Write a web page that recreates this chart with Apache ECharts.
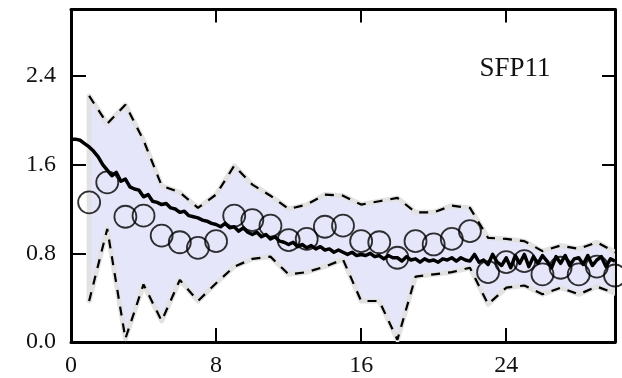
<!DOCTYPE html>
<html>
<head>
<meta charset="utf-8">
<script src="https://cdn.jsdelivr.net/npm/echarts@6/dist/echarts.min.js"></script>
<style>
html,body{margin:0;padding:0;background:#fff;}
#chart{width:622px;height:378px;}
</style>
</head>
<body>
<div id="chart"></div>
<script>
// x positions of the sampled points (1..30)
const pointX = [1,2,3,4,5,6,7,8,9,10,11,12,13,14,15,16,17,18,19,20,21,22,23,24,25,26,27,28,29,30];
// open circles
const circleY = [1.26,1.44,1.13,1.14,0.96,0.90,0.85,0.91,1.14,1.10,1.05,0.92,0.93,1.04,1.05,0.91,0.90,0.76,0.91,0.88,0.93,1.00,0.63,0.72,0.73,0.61,0.67,0.61,0.68,0.60];
// dashed band bounds
const upperY = [2.22,1.97,2.14,1.82,1.41,1.35,1.21,1.33,1.59,1.42,1.32,1.20,1.24,1.33,1.32,1.24,1.27,1.30,1.17,1.17,1.23,1.21,0.94,0.93,0.91,0.82,0.87,0.84,0.90,0.81];
const lowerY = [0.37,1.02,0.03,0.52,0.19,0.56,0.37,0.53,0.68,0.75,0.77,0.61,0.63,0.68,0.745,0.37,0.37,0.02,0.59,0.61,0.63,0.67,0.34,0.49,0.51,0.43,0.49,0.43,0.50,0.44];
// thick solid curve, sampled every 0.25
const curveX = [0,0.25,0.5,0.75,1,1.25,1.5,1.75,2,2.25,2.5,2.75,3,3.25,3.5,3.75,4,4.25,4.5,4.75,5,5.25,5.5,5.75,6,6.25,6.5,6.75,7,7.25,7.5,7.75,8,8.25,8.5,8.75,9,9.25,9.5,9.75,10,10.25,10.5,10.75,11,11.25,11.5,11.75,12,12.25,12.5,12.75,13,13.25,13.5,13.75,14,14.25,14.5,14.75,15,15.25,15.5,15.75,16,16.25,16.5,16.75,17,17.25,17.5,17.75,18,18.25,18.5,18.75,19,19.25,19.5,19.75,20,20.25,20.5,20.75,21,21.25,21.5,21.75,22,22.25,22.5,22.75,23,23.25,23.5,23.75,24,24.25,24.5,24.75,25,25.25,25.5,25.75,26,26.25,26.5,26.75,27,27.25,27.5,27.75,28,28.25,28.5,28.75,29,29.25,29.5,29.75,30];
const curveY = [1.83,1.83,1.82,1.79,1.76,1.72,1.67,1.60,1.55,1.50,1.53,1.45,1.47,1.40,1.38,1.37,1.31,1.33,1.27,1.26,1.24,1.25,1.21,1.20,1.17,1.18,1.14,1.13,1.12,1.10,1.09,1.07,1.06,1.04,1.07,1.03,1.04,1.00,1.03,0.99,0.97,0.99,0.95,0.97,0.93,0.95,0.91,0.90,0.88,0.90,0.86,0.88,0.85,0.87,0.84,0.86,0.83,0.84,0.81,0.83,0.81,0.79,0.81,0.78,0.79,0.78,0.80,0.77,0.78,0.75,0.78,0.76,0.76,0.73,0.77,0.74,0.75,0.72,0.75,0.73,0.74,0.72,0.75,0.74,0.76,0.73,0.76,0.74,0.73,0.79,0.72,0.74,0.70,0.79,0.72,0.69,0.76,0.67,0.78,0.71,0.79,0.68,0.77,0.71,0.78,0.73,0.67,0.77,0.71,0.78,0.69,0.75,0.76,0.70,0.78,0.69,0.74,0.77,0.68,0.75,0.73];
// axis ticks
const xTicks = [0,8,16,24];
const yTicks = [0,0.8,1.6,2.4];
const panelLabel = 'SFP11';

const FONT = '"Liberation Serif", "Times New Roman", serif';
const zip = (a, b) => a.map((v, i) => [v, b[i]]);

const chart = echarts.init(document.getElementById('chart'), null, {renderer: 'canvas'});

const axisCommon = {
  axisLine: {show: true, onZero: false, lineStyle: {color: '#000', width: 3}},
  splitLine: {show: false},
};

const option = {
  animation: false,
  grid: {left: 71, right: 7, top: 9.5, bottom: 36, containLabel: false},
  xAxis: [
    Object.assign({
      type: 'value', position: 'bottom', min: 0, max: 30,
      axisTick: {show: true, inside: true, length: 14, lineStyle: {color: '#000', width: 2}, customValues: xTicks},
      axisLabel: {show: true, margin: 12, color: '#111', fontSize: 24, fontFamily: FONT, customValues: xTicks,
        formatter: v => String(v)}
    }, axisCommon),
    Object.assign({
      type: 'value', position: 'top', min: 0, max: 30,
      axisTick: {show: true, inside: true, length: 13, lineStyle: {color: '#000', width: 2}, customValues: xTicks},
      axisLabel: {show: false}
    }, axisCommon)
  ],
  yAxis: [
    Object.assign({
      type: 'value', position: 'left', min: 0, max: 3.0,
      axisTick: {show: true, inside: true, length: 15, lineStyle: {color: '#000', width: 2}, customValues: yTicks},
      axisLabel: {show: true, margin: 15, color: '#111', fontSize: 24, fontFamily: FONT, customValues: yTicks,
        formatter: v => v.toFixed(1)}
    }, axisCommon),
    Object.assign({
      type: 'value', position: 'right', min: 0, max: 3.0,
      axisTick: {show: true, inside: true, length: 13, lineStyle: {color: '#000', width: 2}, customValues: yTicks},
      axisLabel: {show: false}
    }, axisCommon)
  ],
  graphic: [{
    type: 'text', x: 515, y: 69, z: 100,
    style: {text: panelLabel, font: '27px ' + FONT, fill: '#111', textAlign: 'center', textVerticalAlign: 'middle'}
  }],
  series: [
    {
      type: 'custom', name: 'band', z: 1, clip: true,
      data: [[pointX[0], lowerY[0]]],
      renderItem: function (params, api) {
        const pts = [];
        for (let i = 0; i < pointX.length; i++) pts.push(api.coord([pointX[i], upperY[i]]));
        for (let i = pointX.length - 1; i >= 0; i--) pts.push(api.coord([pointX[i], lowerY[i]]));
        return {
          type: 'polygon',
          shape: {points: pts},
          style: {fill: '#e6e6fa', stroke: '#e2e2e2', lineWidth: 5, lineJoin: 'round'}
        };
      }
    },
    {
      type: 'line', name: 'upper', z: 2, data: zip(pointX, upperY), showSymbol: false, symbol: 'none',
      lineStyle: {color: '#000', width: 2.2, type: [9, 8]}
    },
    {
      type: 'line', name: 'lower', z: 2, data: zip(pointX, lowerY), showSymbol: false, symbol: 'none',
      lineStyle: {color: '#000', width: 2.2, type: [9, 8]}
    },
    {
      type: 'scatter', name: 'points', z: 3, data: zip(pointX, circleY), symbol: 'circle', symbolSize: 22,
      itemStyle: {color: 'rgba(0,0,0,0)', borderColor: '#000', borderWidth: 1.8}
    },
    {
      type: 'line', name: 'curve', z: 4, data: zip(curveX, curveY), showSymbol: false, symbol: 'none',
      lineStyle: {color: '#000', width: 3.5, join: 'round'}
    }
  ]
};
chart.setOption(option);
</script>
</body>
</html>
